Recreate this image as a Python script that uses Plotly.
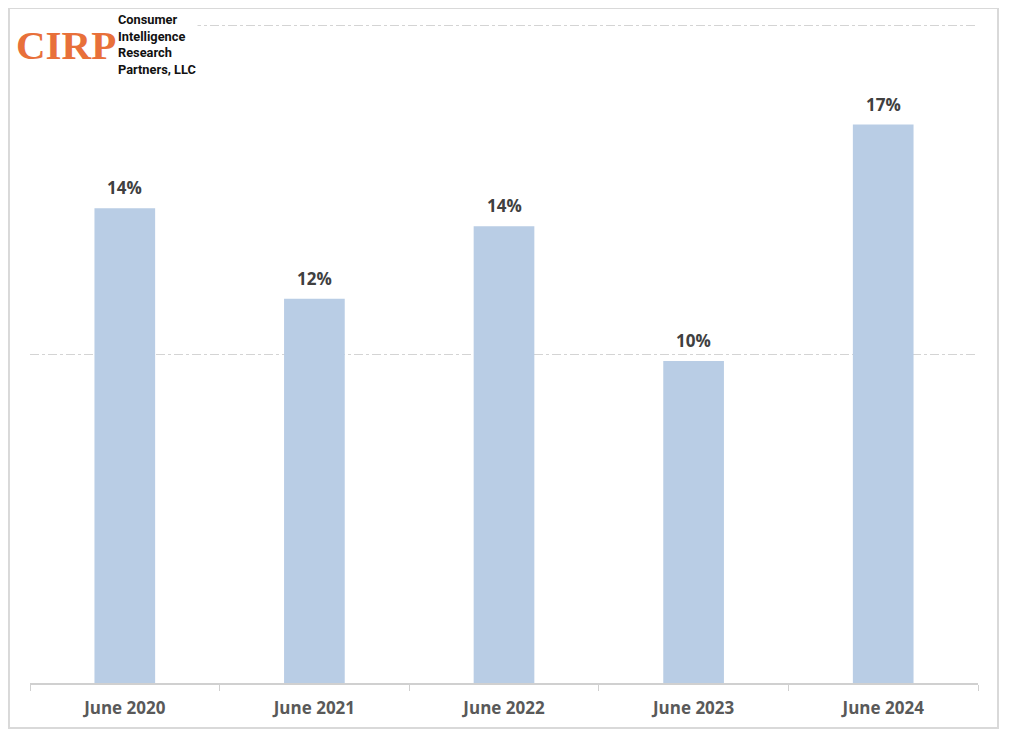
import plotly.graph_objects as go

categories = ["June 2020", "June 2021", "June 2022", "June 2023", "June 2024"]
values = [14.45, 11.7, 13.9, 9.8, 17.0]
labels = ["14%", "12%", "14%", "10%", "17%"]

fig = go.Figure()
fig.add_trace(go.Bar(
    x=categories, y=values,
    marker=dict(color="#B9CDE5", line=dict(width=0)),
    hoverinfo="skip",
))

for c, v, t in zip(categories, values, labels):
    fig.add_annotation(x=c, y=v, text=f"<b>{t}</b>", showarrow=False,
                       yanchor="bottom", yshift=7,
                       font=dict(family="Open Sans", size=17, color="#404040"))

fig.update_layout(
    width=996, height=721,
    margin=dict(l=22, r=26, t=15, b=46),
    paper_bgcolor="white", plot_bgcolor="white",
    bargap=0.68, showlegend=False,
    xaxis=dict(
        showline=True, linecolor="#D0D0D0", linewidth=1.5,
        ticks="outside", tickson="boundaries", ticklen=6, tickcolor="#D0D0D0",
        showgrid=False, ticklabelstandoff=9, automargin=False,
        tickfont=dict(family="Open Sans", size=17, color="#595959", weight="bold"),
    ),
    yaxis=dict(
        range=[0, 20.09], showticklabels=False, showline=False, zeroline=False,
        showgrid=True, gridcolor="#D4D4D4", griddash="dashdot", gridwidth=1,
        tickvals=[10, 20], automargin=False,
    ),
)

# outer frame
fig.add_shape(type="rect", xref="paper", yref="paper",
              x0=-0.0222, x1=1.0211, y0=-0.0682, y1=1.0227,
              line=dict(color="#D9D9D9", width=2), fillcolor="rgba(0,0,0,0)", layer="above")

# logo
fig.add_annotation(xref="paper", yref="paper", x=0.0907, y=1.0197, xanchor="left", yanchor="top",
                   text="<b>Consumer<br>Intelligence<br>Research<br>Partners, LLC</b>",
                   showarrow=False, align="left", bgcolor="white",
                   font=dict(family="Roboto", size=12.8, color="#111111"))
fig.add_annotation(xref="paper", yref="paper", x=-0.0169, y=0.9667, xanchor="left", yanchor="middle",
                   text="<b>CIRP</b>", showarrow=False, bgcolor="white",
                   font=dict(family="Liberation Serif", size=41, color="#E8703A"))

fig.write_html("out.html")
